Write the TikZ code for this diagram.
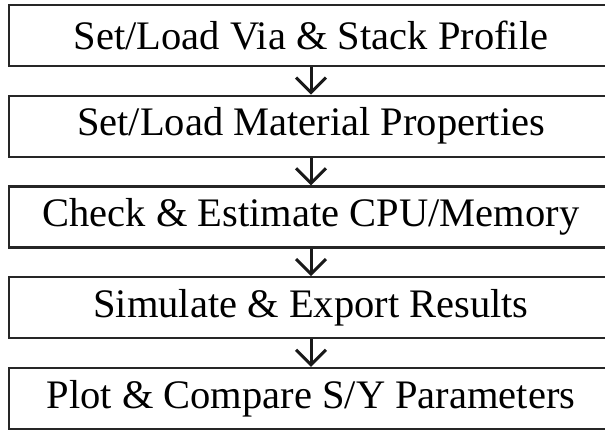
\documentclass[tikz,border=0pt]{standalone}
\usepackage{fontspec}
\setmainfont{Liberation Serif}
\usetikzlibrary{arrows.meta}
\tikzset{
  stepbox/.style={draw=black!85, line width=2.2pt, minimum width=604pt, minimum height=61pt, inner sep=0pt, font=\fontsize{40.5}{43}\selectfont},
  flow/.style={draw=black!90, line width=3pt, -{Straight Barb[length=15pt,width=30pt]}}
}
\begin{document}
\begin{tikzpicture}[x=1pt,y=1pt]
\useasboundingbox (0,0) rectangle (605,429);
\clip (0,0) rectangle (605,429);
\node[stepbox] (b1) at (311,393.5) {Set/Load Via \& Stack Profile};
\node[stepbox] (b2) at (311,302.75) {Set/Load Material Properties};
\node[stepbox] (b3) at (311,212) {Check \& Estimate CPU/Memory};
\node[stepbox] (b4) at (311,121.25) {Simulate \& Export Results};
\node[stepbox] (b5) at (311,30.5) {Plot \& Compare S/Y Parameters};
\draw[flow] (b1.south) -- (b2.north);
\draw[flow] (b2.south) -- (b3.north);
\draw[flow] (b3.south) -- (b4.north);
\draw[flow] (b4.south) -- (b5.north);
\end{tikzpicture}
\end{document}
